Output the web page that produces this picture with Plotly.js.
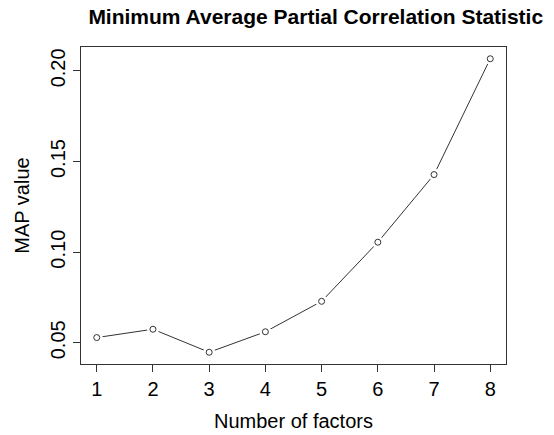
<!DOCTYPE html>
<html>
<head>
<meta charset="utf-8">
<script src="https://cdn.plot.ly/plotly-3.0.1.min.js"></script>
<style>html,body{margin:0;padding:0;background:#fff;}#chart{width:554px;height:435px;}</style>
</head>
<body>
<div id="chart"></div>
<script>
const factors = [1, 2, 3, 4, 5, 6, 7, 8];
const mapValues = [0.0529, 0.0575, 0.0448, 0.0561, 0.0729, 0.1055, 0.1428, 0.2067];
const yTickVals = [0.05, 0.10, 0.15, 0.20];
const yTickText = ["0.05", "0.10", "0.15", "0.20"];

const ymin = Math.min(...mapValues), ymax = Math.max(...mapValues);
const yd = ymax - ymin;
const xmin = Math.min(...factors), xmax = Math.max(...factors);
const xd = xmax - xmin;

const font = {family: "Liberation Sans, Arial, sans-serif", color: "#000"};

const traces = [
  {x: factors, y: mapValues, mode: "lines", line: {color: "#333", width: 1}, hoverinfo: "skip"},
  {x: factors, y: mapValues, mode: "markers", marker: {symbol: "circle", size: 12, color: "#fff", line: {width: 0}}, hoverinfo: "skip"},
  {x: factors, y: mapValues, mode: "markers", marker: {symbol: "circle-open", size: 6, color: "#333", line: {width: 1, color: "#333"}}}
];

const layout = {
  width: 554, height: 435,
  margin: {l: 81, r: 48, t: 47, b: 71},
  paper_bgcolor: "#fff", plot_bgcolor: "#fff",
  showlegend: false,
  font: Object.assign({size: 20}, font),
  title: {text: "<b>Minimum Average Partial Correlation Statistic</b>", font: Object.assign({size: 21}, font),
          x: 306/554, xanchor: "center", xref: "paper", y: 1 - 17/435, yanchor: "middle", yref: "container"},
  xaxis: {
    range: [xmin - 0.04*xd, xmax + 0.04*xd],
    tickvals: factors, ticktext: factors.map(String),
    ticks: "outside", ticklen: 7, tickwidth: 1, tickcolor: "#333",
    showline: true, linecolor: "#333", linewidth: 1, mirror: true,
    showgrid: false, zeroline: false,
    tickfont: Object.assign({size: 20}, font),
    title: {text: "Number of factors", font: Object.assign({size: 20}, font), standoff: 14}
  },
  yaxis: {
    range: [ymin - 0.04*yd, ymax + 0.04*yd],
    tickvals: yTickVals, ticktext: yTickText, tickangle: -90,
    ticks: "outside", ticklen: 7, tickwidth: 1, tickcolor: "#333",
    showline: true, linecolor: "#333", linewidth: 1, mirror: true,
    showgrid: false, zeroline: false,
    tickfont: Object.assign({size: 20}, font),
    title: {text: "MAP value", font: Object.assign({size: 20}, font), standoff: 12}
  }
};

Plotly.newPlot("chart", traces, layout, {staticPlot: true, displayModeBar: false});
</script>
</body>
</html>
